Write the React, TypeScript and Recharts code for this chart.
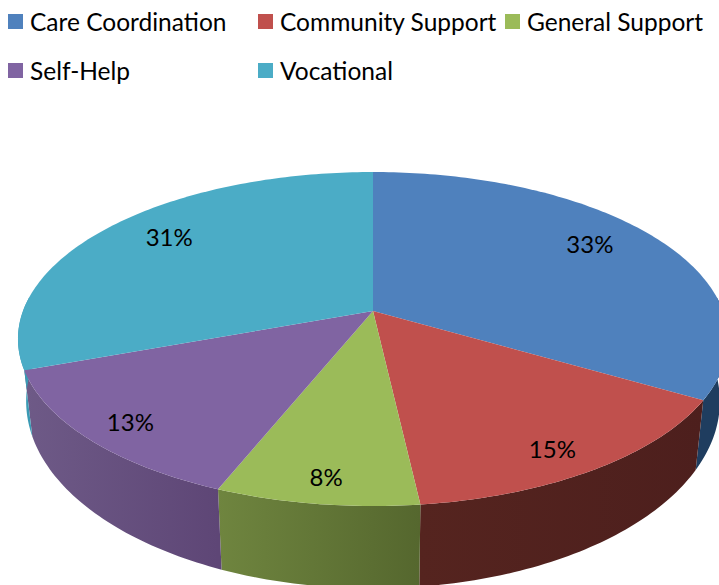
import React from 'react';
import { PieChart, Pie, Legend } from 'recharts';

const categories = ['Care Coordination', 'Community Support', 'General Support', 'Self-Help', 'Vocational'];
const shares = [33.4, 14.8, 7.9, 13.3, 30.6];
const topColors = ['#4f81bd', '#c0504d', '#9bbb59', '#8064a2', '#4bacc6'];
const wallLeft = ['#1f3d5f', '#55241f', '#6f853f', '#6e5a87', '#3a9ab4'];
const wallRight = ['#1f3d5f', '#4d1f1d', '#55672e', '#5e4676', '#3a9ab4'];

const table = categories.map((name, i) => ({ name, value: shares[i], fill: topColors[i] }));

const FONT = 'Lato, Carlito, sans-serif';

// perspective of the tilted disc, k is the foreshortening of near vs far rim
const K = 0.1677;
const SQUASH = 0.4637;
const DEPTH_X = 0.977;
const DEPTH_Y = 1.12;
const DEPTH_DROP = 59;

const project = (cx: number, cy: number, r: number, theta: number, f = 1) => {
  const s = Math.sin((theta * Math.PI) / 180) * f;
  const c = Math.cos((theta * Math.PI) / 180) * f;
  const d = 1 + K * c;
  return { x: cx + (r * s) / d, y: cy - (r * SQUASH * c) / d };
};

const lower = (cx: number, cy: number, p: { x: number; y: number }) => ({
  x: cx + (p.x - cx) * DEPTH_X,
  y: cy + DEPTH_DROP + (p.y - cy) * DEPTH_Y,
});

const arcPoints = (cx: number, cy: number, r: number, from: number, to: number) => {
  const pts = [];
  const steps = Math.max(2, Math.ceil(to - from));
  for (let i = 0; i <= steps; i++) pts.push(project(cx, cy, r, from + ((to - from) * i) / steps));
  return pts;
};

const toPath = (pts: { x: number; y: number }[]) =>
  pts.map((p, i) => `${i ? 'L' : 'M'}${p.x.toFixed(2)} ${p.y.toFixed(2)}`).join(' ') + ' Z';

const TopFace = (props: any) => {
  const { cx, cy, outerRadius, startAngle, endAngle, fill } = props;
  const pts = arcPoints(cx, cy, outerRadius, 90 - startAngle, 90 - endAngle);
  return <path d={toPath([{ x: cx, y: cy }, ...pts])} fill={fill} />;
};

const WallFace = (props: any) => {
  const { cx, cy, outerRadius, startAngle, endAngle, name } = props;
  const from = Math.max(90 - startAngle, 85);
  const to = Math.min(90 - endAngle, 275);
  if (to <= from) return null;
  const i = categories.indexOf(name);
  const upper = arcPoints(cx, cy, outerRadius, from, to);
  const bottom = upper.map((p) => lower(cx, cy, p)).reverse();
  const xs = upper.map((p) => p.x);
  const id = `wall-${i}`;
  return (
    <g>
      <defs>
        <linearGradient id={id} gradientUnits="userSpaceOnUse" x1={Math.min(...xs)} x2={Math.max(...xs)} y1={0} y2={0}>
          <stop offset="0%" stopColor={wallLeft[i]} />
          <stop offset="100%" stopColor={wallRight[i]} />
        </linearGradient>
      </defs>
      <path d={toPath([...upper, ...bottom])} fill={`url(#${id})`} />
    </g>
  );
};

const labelRadius = [0.76, 0.8, 0.9, 0.89, 0.75];
const labelNudgeX = [0, 7, 3, 7, -3];
const labelNudgeY = [-10, 15, -5, -2, -10];

const renderLabel = (props: any) => {
  const { cx, cy, outerRadius, midAngle, value, index } = props;
  const p = project(cx, cy, outerRadius, 90 - midAngle, labelRadius[index]);
  return (
    <text
      x={p.x + labelNudgeX[index]}
      y={p.y + labelNudgeY[index]}
      textAnchor="middle"
      dominantBaseline="central"
      fontFamily={FONT}
      fontSize={24}
      fill="#000"
    >
      {Math.round(value)}%
    </text>
  );
};

const renderLegend = ({ payload }: any) => {
  const seen = new Set();
  const items = (payload || []).filter((item: any) => {
    if (seen.has(item.value)) return false;
    seen.add(item.value);
    return true;
  });
  return (
    <div
      style={{
        position: 'absolute',
        left: 8,
        top: -1,
        display: 'grid',
        gridTemplateColumns: '250px 247px 210px',
        gridAutoRows: '49px',
        fontFamily: FONT,
        fontSize: 24.5,
        color: '#000',
      }}
    >
      {items.map((item: any) => (
        <div key={item.value} style={{ display: 'flex', alignItems: 'center', height: 44, whiteSpace: 'nowrap' }}>
          <span style={{ width: 15, height: 15, background: item.color, marginRight: 7, flex: 'none' }} />
          {item.value}
        </div>
      ))}
    </div>
  );
};

export default function App() {
  return (
    <div style={{ position: 'fixed', left: 0, top: 0, width: 719, height: 585, overflow: 'hidden', background: '#fff' }}>
      <PieChart width={719} height={585} margin={{ top: 0, right: 0, bottom: 0, left: 0 }}>
        <Legend content={renderLegend} verticalAlign="top" wrapperStyle={{ position: 'absolute', left: 0, top: 0, width: 719 }} />
        <Pie
          data={table}
          dataKey="value"
          nameKey="name"
          cx={373}
          cy={311}
          innerRadius={0}
          outerRadius={350}
          startAngle={90}
          endAngle={-270}
          stroke="none"
          legendType="none"
          shape={WallFace}
          inactiveShape={WallFace}
          isAnimationActive={false}
        />
        <Pie
          data={table}
          dataKey="value"
          nameKey="name"
          cx={373}
          cy={311}
          innerRadius={0}
          outerRadius={350}
          startAngle={90}
          endAngle={-270}
          stroke="none"
          shape={TopFace}
          inactiveShape={TopFace}
          label={renderLabel}
          labelLine={false}
          isAnimationActive={false}
        />
      </PieChart>
    </div>
  );
}
